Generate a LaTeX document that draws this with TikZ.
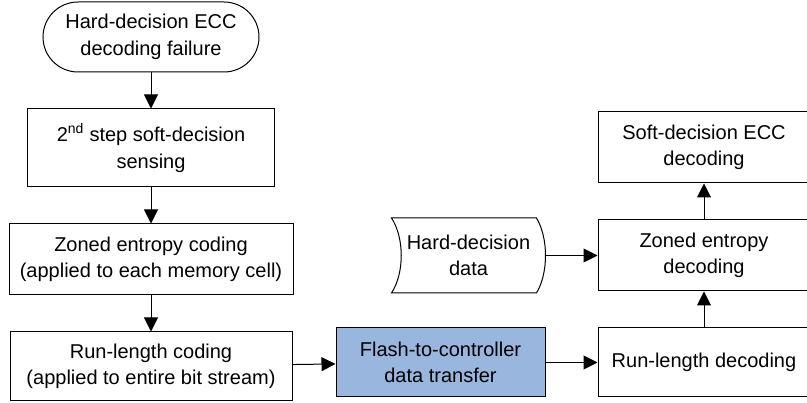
\documentclass[tikz,border=0pt]{standalone}
\usepackage{fontspec}
\setmainfont{Liberation Sans}
\usetikzlibrary{arrows.meta,chains,positioning}
\definecolor{flashblue}{RGB}{152,182,222}

\begin{document}
\begin{tikzpicture}[x=1pt,y=1pt,
    arj/.style={line width=1pt,-{Triangle[length=14pt,width=14pt]}},
    blk/.style={draw,line width=1pt,align=center,inner sep=2pt,
        font=\fontsize{20}{26.5}\selectfont},
    term/.style={blk,rounded corners=35pt,minimum width=216pt,minimum height=70pt}]
\useasboundingbox (0,0) rectangle (807,-403);

% coding side
\path[start chain=L going below,node distance=36pt,
      nodes={on chain,join=by arj}]
    node[term] (fail) at (151,-37) {Hard-decision ECC\\decoding failure}
    node[blk,minimum width=247pt,minimum height=78pt] (sense)
        {2\textsuperscript{nd} step soft-decision\\sensing}
    node[blk,minimum width=284pt,minimum height=71pt] (zec)
        {Zoned entropy coding\\(applied to each memory cell)}
    node[blk,minimum width=282pt,minimum height=69pt] (rlc)
        {Run-length coding\\(applied to entire bit stream)};

\node[blk,fill=flashblue,minimum width=209pt,minimum height=69pt] (flash)
    at (440.5,-362.5) {Flash-to-controller\\data transfer};

% decoding side
\path[start chain=R going above,node distance=36pt,
      nodes={on chain,join=by arj}]
    node[blk,minimum width=212pt,minimum height=69pt] (rld) at (704,-362.5)
        {Run-length decoding}
    node[blk,minimum width=212pt,minimum height=71pt] (zed)
        {Zoned entropy\\decoding}
    node[blk,minimum width=212pt,minimum height=71pt] (sed)
        {Soft-decision ECC\\decoding};

% hard-decision data (stored data shape)
\node[blk,draw=none,minimum width=153pt,minimum height=74pt,left=52pt of zed] (hdd)
    {Hard-decision\\data};
\draw[line width=1pt] (hdd.north west) -- ([xshift=-9pt]hdd.north east)
    .. controls +(12pt,-20pt) and +(12pt,20pt) .. ([xshift=-9pt]hdd.south east)
    -- (hdd.south west)
    .. controls +(13pt,20pt) and +(13pt,-20pt) .. cycle;

\draw[arj] (rlc) -- (flash);
\draw[arj] (flash) -- (rld);
\draw[arj] (hdd.east) -- (zed);
\end{tikzpicture}
\end{document}
